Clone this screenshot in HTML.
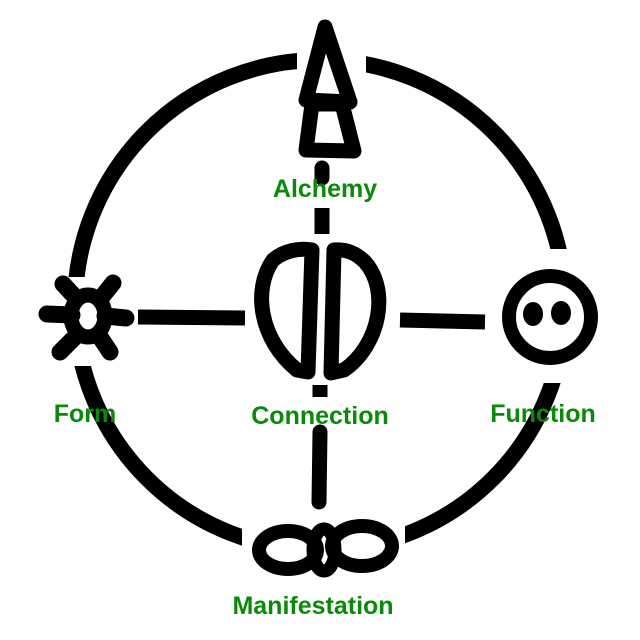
<!DOCTYPE html>
<html><head><meta charset="utf-8"><style>
html,body{margin:0;padding:0;background:#fff}
svg{display:block}
text{font-family:"Liberation Sans",sans-serif;font-weight:bold;fill:#0a8a0a;font-size:25px;text-anchor:middle}
</style></head><body>
<svg width="640" height="640" viewBox="0 0 640 640">
<g fill="none" stroke="#000" stroke-linecap="butt" stroke-linejoin="round">
<circle cx="320" cy="305" r="245" stroke-width="16"/>
</g>
<g fill="#fff">
<rect x="297" y="40" width="69" height="50"/>
<rect x="50" y="277" width="62" height="89"/>
<rect x="535" y="249" width="70" height="134"/>
<rect x="242" y="515" width="163" height="70"/>
</g>
<g fill="none" stroke="#000" stroke-width="15" stroke-linecap="round" stroke-linejoin="round">
<line x1="322" y1="208" x2="322" y2="234" stroke-linecap="butt"/>
<line x1="322" y1="168" x2="322" y2="178"/>
<line x1="320" y1="385" x2="320" y2="397" stroke-linecap="butt"/>
<line x1="320" y1="432" x2="319" y2="502"/>
<line x1="138" y1="317" x2="245" y2="318" stroke-linecap="butt"/>
<line x1="400" y1="320" x2="485" y2="322" stroke-linecap="butt"/>
<path d="M325 27 L306 100 L350 102 Z"/>
<path d="M312 104 L306 150 L354 151 L342 104 Z"/>
<path d="M312 250 L308 372 L297 370 C260 340 252 290 273 260 C285 250 300 248 312 250 Z"/>
<path d="M334 250 L331 373 L344 370 C380 345 390 290 365 262 C355 252 345 249 334 250 Z"/>
<circle cx="550" cy="317" r="41" stroke-width="14"/>
<ellipse cx="88" cy="316" rx="17" ry="21" stroke-width="15"/>
<path d="M47 314 L72 315 M105 316 L126 318 M63 284 L76 298 M113 283 L101 298 M60 352 L75 337 M110 352 L100 337" stroke-width="17"/>
<ellipse cx="288" cy="550" rx="29" ry="19" stroke-width="14"/>
<ellipse cx="362" cy="546" rx="30" ry="20" stroke-width="14"/>
<ellipse cx="324" cy="550" rx="11" ry="21" stroke-width="13"/>
</g>
<ellipse cx="533" cy="314" rx="10" ry="12" fill="#000"/>
<ellipse cx="561" cy="313" rx="10" ry="12" fill="#000"/>
<text x="325" y="197">Alchemy</text>
<text x="85" y="422">Form</text>
<text x="320" y="424">Connection</text>
<text x="543" y="422">Function</text>
<text x="313" y="614">Manifestation</text>
</svg>
</body></html>
